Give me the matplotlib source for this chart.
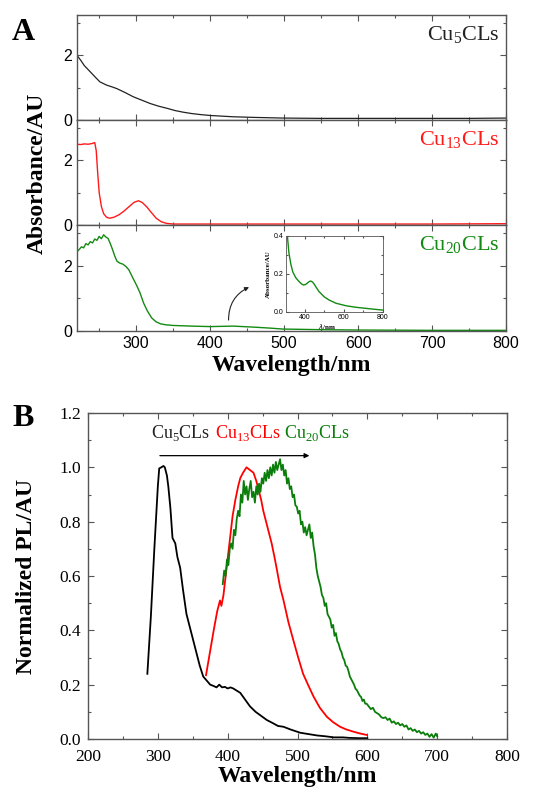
import numpy as np
import matplotlib.pyplot as plt
from matplotlib.ticker import MultipleLocator

plt.rcParams['mathtext.fontset'] = 'custom'
plt.rcParams['mathtext.rm'] = 'Liberation Serif'
plt.rcParams['xtick.direction'] = 'in'
plt.rcParams['ytick.direction'] = 'in'
plt.rcParams['xtick.top'] = True
plt.rcParams['ytick.right'] = True

SERIF = 'Liberation Serif'
SANS = 'Liberation Sans'
GREEN = '#138a13'
FRAME = '#555555'

# ---- panel A: absorbance spectra
cu5_abs_nm = [220, 225, 230, 238, 245, 251, 260, 268, 274, 285, 296, 308, 319, 330, 342,
              353, 364, 375, 386, 400, 431, 460, 498, 550, 600, 650, 700, 750, 800]
cu5_abs = [2.0, 1.85, 1.68, 1.49, 1.32, 1.18, 1.08, 1.02, 0.97, 0.85, 0.72, 0.61, 0.51, 0.43, 0.36,
           0.29, 0.24, 0.2, 0.17, 0.14, 0.1, 0.08, 0.06, 0.05, 0.05, 0.05, 0.05, 0.05, 0.06]

cu13_abs_nm = [220, 225, 230, 235, 240, 244, 246, 248, 250, 253, 256, 260, 264, 270, 277, 283,
               290, 297, 303, 308, 314, 320, 327, 334, 341, 350, 370, 400, 500, 600, 700, 800]
cu13_abs = [2.5, 2.49, 2.51, 2.5, 2.52, 2.55, 2.3, 1.6, 1.0, 0.57, 0.35, 0.24, 0.21, 0.24, 0.32, 0.42,
            0.56, 0.7, 0.75, 0.7, 0.57, 0.4, 0.21, 0.1, 0.05, 0.03, 0.03, 0.03, 0.03, 0.03, 0.03, 0.04]

cu20_abs_nm = [220, 223, 226, 229, 232, 235, 238, 241, 244, 247, 250, 253, 256, 259, 262, 265,
               268, 271, 274, 278, 282, 286, 290, 295, 301, 305, 310, 315, 321, 327, 333, 340,
               350, 375, 400, 431, 458, 480, 498, 550, 600, 700, 800]
cu20_abs = [2.43, 2.5, 2.58, 2.55, 2.68, 2.64, 2.74, 2.7, 2.82, 2.78, 2.9, 2.83, 2.95, 2.88, 2.84, 2.68,
            2.5, 2.3, 2.14, 2.08, 2.05, 1.98, 1.88, 1.65, 1.38, 1.18, 0.86, 0.62, 0.4, 0.28, 0.22, 0.19,
            0.17, 0.15, 0.135, 0.15, 0.12, 0.09, 0.06, 0.04, 0.03, 0.02, 0.02]

inset_nm = [312, 320, 330, 340, 355, 372, 385, 395, 405, 414, 423, 431, 440, 448, 460, 474,
            500, 525, 560, 611, 660, 714, 760, 800]
inset_abs = [0.4, 0.31, 0.25, 0.21, 0.18, 0.16, 0.147, 0.142, 0.145, 0.152, 0.16, 0.163, 0.158, 0.148,
             0.128, 0.107, 0.08, 0.063, 0.046, 0.033, 0.025, 0.019, 0.014, 0.01]

# ---- panel B: normalized PL
cu5_pl_nm = [285, 290, 295, 300, 302, 305, 308, 310, 313, 315, 318, 321, 323, 325, 328, 332, 336,
             341, 346, 351, 356, 360, 365, 370, 375, 380, 384, 388, 392, 396, 400, 404, 408, 413,
             418, 425, 432, 440, 448, 456, 465, 472, 480, 490, 504, 516, 528, 540, 552, 565, 575,
             588, 600]
cu5_pl = [0.24, 0.45, 0.7, 0.93, 0.996, 1.0, 1.005, 1.0, 0.97, 0.93, 0.85, 0.74, 0.73, 0.72, 0.67,
          0.63, 0.55, 0.46, 0.41, 0.36, 0.31, 0.27, 0.23, 0.215, 0.2, 0.195, 0.19, 0.2, 0.19, 0.192,
          0.186, 0.19, 0.186, 0.178, 0.17, 0.145, 0.12, 0.1, 0.085, 0.07, 0.058, 0.048, 0.045, 0.035,
          0.023, 0.018, 0.013, 0.01, 0.006, 0.006, 0.004, 0.003, 0.003]

cu13_pl_nm = [369, 374, 380, 385, 389, 391, 394, 398, 403, 407, 411, 415, 418, 422, 427, 432, 437,
              441, 444, 448, 451, 456, 460, 463, 467, 470, 475, 480, 487, 494, 501, 508, 515, 523,
              532, 542, 551, 561, 570, 580, 590, 599]
cu13_pl = [0.235, 0.31, 0.4, 0.47, 0.51, 0.49, 0.53, 0.62, 0.73, 0.82, 0.88, 0.93, 0.96, 0.98, 1.0,
           0.99, 0.98, 0.95, 0.92, 0.88, 0.84, 0.79, 0.75, 0.72, 0.67, 0.63, 0.56, 0.51, 0.43, 0.364,
           0.3, 0.24, 0.2, 0.156, 0.115, 0.082, 0.062, 0.045, 0.035, 0.027, 0.02, 0.015]

cu20_pl_nm = [393, 395, 397, 399, 401, 403, 405, 407, 409, 411, 413, 415, 417, 419, 421, 423, 425,
              427, 429, 431, 433, 435, 437, 439, 441, 443, 445, 447, 449, 451, 453, 455, 457, 459,
              461, 463, 465, 467, 469, 471, 473, 475, 477, 479, 481, 483, 485, 487, 489, 491, 493,
              495, 497, 499, 501, 503, 505, 507, 509, 511, 513, 515, 517, 519, 521, 523, 525, 527,
              529, 531, 533, 535, 537, 539, 541, 543, 545, 547, 549, 551, 553, 555, 557, 559, 561,
              563, 565, 567, 569, 571, 573, 575, 577, 579, 581, 583, 585, 587, 589, 591, 593, 595,
              597, 599, 602, 605, 608, 611, 614, 617, 620, 623, 626, 629, 632, 635, 638, 641, 644,
              647, 650, 653, 656, 659, 662, 665, 668, 671, 674, 677, 680, 683, 686, 689, 692, 695,
              698, 700]
cu20_pl = [0.57, 0.62, 0.6, 0.66, 0.64, 0.7, 0.72, 0.7, 0.77, 0.75, 0.81, 0.84, 0.82, 0.9, 0.87, 0.95,
           0.9, 0.93, 0.88, 0.92, 0.95, 0.89, 0.91, 0.87, 0.93, 0.9, 0.94, 0.91, 0.96, 0.94, 0.98, 0.95,
           0.99, 0.96, 1.0, 0.97, 1.01, 0.98, 1.02, 0.99, 1.01, 1.03, 0.99, 1.01, 0.97, 0.99, 0.94, 0.96,
           0.92, 0.93, 0.89, 0.9, 0.86, 0.855, 0.83, 0.84, 0.79, 0.8, 0.76, 0.78, 0.75, 0.77, 0.79, 0.74,
           0.76, 0.71, 0.68, 0.63, 0.6, 0.58, 0.56, 0.53, 0.52, 0.49, 0.5, 0.46, 0.45, 0.44, 0.41, 0.42,
           0.38, 0.39, 0.36, 0.35, 0.33, 0.32, 0.3, 0.29, 0.27, 0.266, 0.25, 0.23, 0.22, 0.21, 0.2, 0.185,
           0.18, 0.17, 0.16, 0.155, 0.14, 0.145, 0.13, 0.13, 0.12, 0.11, 0.115, 0.1, 0.095, 0.09, 0.08,
           0.077, 0.08, 0.07, 0.075, 0.06, 0.065, 0.055, 0.06, 0.05, 0.055, 0.045, 0.05, 0.035, 0.04,
           0.03, 0.035, 0.025, 0.03, 0.02, 0.025, 0.015, 0.02, 0.008, 0.018, 0.005, 0.02, 0.01]


def style_axes(ax, font, size):
    for sp in ax.spines.values():
        sp.set_color(FRAME)
        sp.set_linewidth(1.0)
    ax.tick_params(which='both', color=FRAME, width=0.8, labelsize=size)
    ax.tick_params(which='major', length=4)
    ax.tick_params(which='minor', length=2.5)
    for lab in ax.get_xticklabels() + ax.get_yticklabels():
        lab.set_fontfamily(font)


fig = plt.figure(figsize=(5.52, 7.96), dpi=100)

W, H = 552.0, 796.0
tops = [15, 120, 225]
bots = [120, 225, 331]
axA = []
for t, b in zip(tops, bots):
    ax = fig.add_axes([77 / W, 1 - b / H, 429 / W, (b - t) / H])
    ax.set_xlim(220, 800)
    ax.set_ylim(0, 3.25)
    ax.xaxis.set_major_locator(MultipleLocator(100))
    ax.xaxis.set_minor_locator(MultipleLocator(50))
    ax.yaxis.set_major_locator(MultipleLocator(2))
    ax.yaxis.set_minor_locator(MultipleLocator(1))
    style_axes(ax, SANS, 11.5)
    axA.append(ax)

axA[0].plot(cu5_abs_nm, cu5_abs, color='#222222', lw=0.9)
axA[1].plot(cu13_abs_nm, cu13_abs, color='#ff1a1a', lw=1.0)
axA[2].plot(cu20_abs_nm, cu20_abs, color=GREEN, lw=1.0)
axA[0].tick_params(labelbottom=False)
axA[1].tick_params(labelbottom=False)

labs = [r'Cu$_{\mathregular{5}}$CLs', r'Cu$_{\mathregular{13}}$CLs', r'Cu$_{\mathregular{20}}$CLs']
cols = ['#222222', '#ff1a1a', GREEN]
for ax, lab, c in zip(axA, labs, cols):
    ax.text(0.985, 0.81, lab, transform=ax.transAxes, ha='right', va='center',
            fontsize=16, color=c, fontfamily=SERIF)

axA[2].set_xlabel('Wavelength/nm', fontsize=17, fontweight='bold', fontfamily=SERIF, labelpad=3)
fig.text(37 / W, 1 - 173 / H, 'Absorbance/AU', rotation=90, ha='center', va='center',
         fontsize=17, fontweight='bold', fontfamily=SERIF)
fig.text(12 / W, 1 - 32 / H, 'A', ha='left', va='center', fontsize=23,
         fontweight='bold', fontfamily=SERIF)

# inset
axi = fig.add_axes([286 / W, 1 - 312 / H, 97 / W, 76 / H])
axi.plot(inset_nm, inset_abs, color=GREEN, lw=1.0)
axi.set_xlim(305, 800)
axi.set_ylim(0, 0.4)
axi.xaxis.set_major_locator(MultipleLocator(200))
axi.xaxis.set_minor_locator(MultipleLocator(100))
axi.yaxis.set_major_locator(MultipleLocator(0.2))
axi.yaxis.set_minor_locator(MultipleLocator(0.1))
style_axes(axi, SANS, 5)
axi.tick_params(which='major', length=2, pad=1.5)
axi.tick_params(which='minor', length=1.2)
axi.set_yticks([0.0, 0.2, 0.4], ['0.0', '0.2', '0.4'])
for sp in axi.spines.values():
    sp.set_linewidth(0.6)
axi.set_ylabel('Absorbance/AU', fontsize=5, fontweight='bold', fontfamily=SERIF, labelpad=2)
axi.text(0.42, -0.13, r'$\lambda$/nm', transform=axi.transAxes, ha='center', va='top',
         fontsize=5, fontweight='bold', fontfamily=SERIF)

axA[2].annotate('', xy=(456, 1.38), xytext=(425, 0.25),
                arrowprops=dict(arrowstyle='-|>', color='#222222', lw=0.8,
                                mutation_scale=6, connectionstyle='arc3,rad=-0.35'))

# ---- panel B
axB = fig.add_axes([88 / W, 1 - 739 / H, 419 / W, 326 / H])
axB.plot(cu5_pl_nm, cu5_pl, color='black', lw=1.3)
axB.plot(cu13_pl_nm, cu13_pl, color='#ff0000', lw=1.3)
axB.plot(cu20_pl_nm, cu20_pl, color='#0a7d0a', lw=1.3)
axB.set_xlim(200, 800)
axB.set_ylim(0, 1.2)
axB.xaxis.set_major_locator(MultipleLocator(100))
axB.xaxis.set_minor_locator(MultipleLocator(50))
axB.yaxis.set_major_locator(MultipleLocator(0.2))
axB.yaxis.set_minor_locator(MultipleLocator(0.1))
axB.set_yticks(np.arange(0, 1.21, 0.2), ['0.0', '0.2', '0.4', '0.6', '0.8', '1.0', '1.2'])
style_axes(axB, SERIF, 12.5)
axB.tick_params(axis='x', pad=7)
axB.tick_params(axis='y', pad=5)
axB.set_xlabel('Wavelength/nm', fontsize=17, fontweight='bold', fontfamily=SERIF, labelpad=1)
fig.text(27 / W, 1 - 576 / H, 'Normalized PL/AU', rotation=90, ha='center', va='center',
         fontsize=17, fontweight='bold', fontfamily=SERIF)
fig.text(12 / W, 1 - 418 / H, 'B', ha='left', va='center', fontsize=23,
         fontweight='bold', fontfamily=SERIF)

axB.annotate('', xy=(521, 1.043), xytext=(299, 1.043),
             arrowprops=dict(arrowstyle='-|>', color='black', lw=0.9, mutation_scale=7))
for x, lab, c in zip([332, 429, 527], labs, ['#222222', '#ff0000', '#0a7d0a']):
    axB.text(x, 1.126, lab, ha='center', va='center', fontsize=13, color=c, fontfamily=SERIF)

fig.savefig('out.png', dpi=100)
